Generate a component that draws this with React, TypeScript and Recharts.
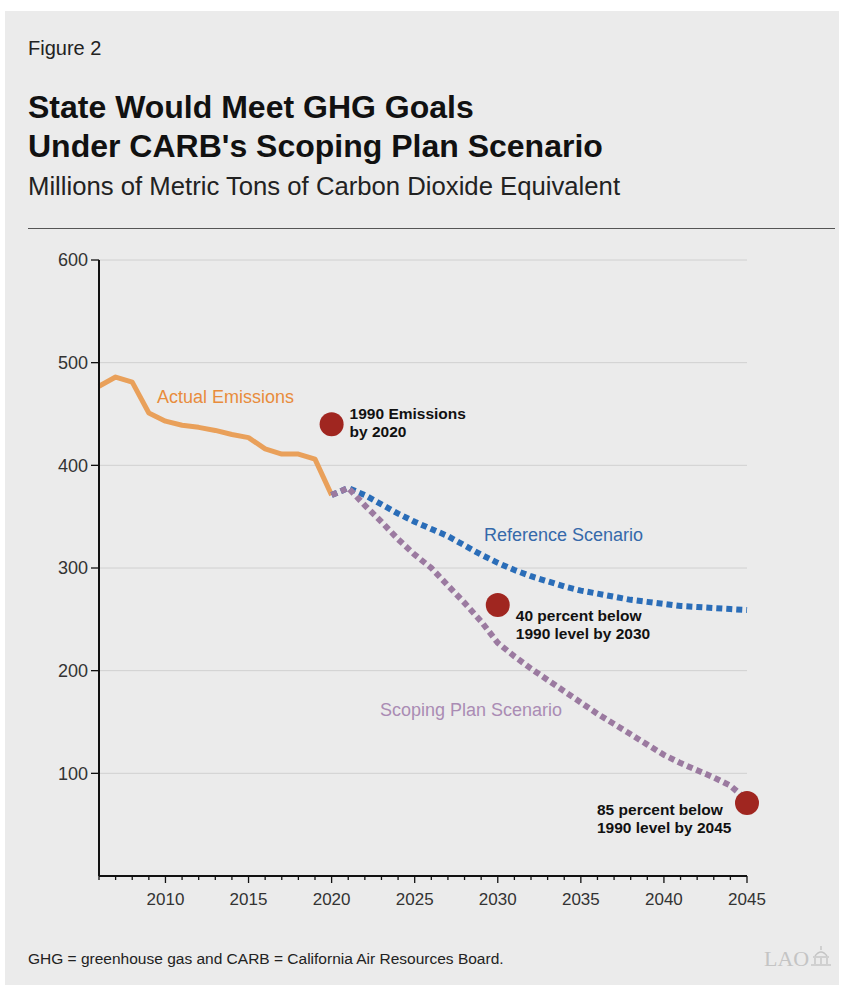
import { LineChart, Line, XAxis, YAxis, CartesianGrid } from 'recharts';

const years = [
  2006, 2007, 2008, 2009, 2010, 2011, 2012, 2013, 2014, 2015, 2016, 2017, 2018, 2019, 2020,
  2021, 2022, 2023, 2024, 2025, 2026, 2027, 2028, 2029, 2030, 2031, 2032, 2033, 2034, 2035,
  2036, 2037, 2038, 2039, 2040, 2041, 2042, 2043, 2044, 2045,
];

// 2006-2020
const actualEmissions = [477, 486, 481, 451, 443, 439, 437, 434, 430, 427, 416, 411, 411, 406, 371];

// 2020-2045
const referenceScenario = [
  371, 378, 371, 362, 353, 345, 338, 331, 322, 313, 305, 298, 292, 287, 282, 278, 275, 272, 269,
  267, 265, 263, 262, 261, 260, 259,
];
const scopingPlan = [
  371, 378, 361, 345, 328, 313, 300, 283, 266, 248, 227, 214, 202, 191, 180, 169, 158, 148, 138,
  128, 118, 110, 103, 96, 88, 74,
];

const goalYears = [2020, 2030, 2045];
const goalValues = [440, 264, 71];
const goalNotes = [
  ['1990 Emissions', 'by 2020'],
  ['40 percent below', '1990 level by 2030'],
  ['85 percent below', '1990 level by 2045'],
];

const yTicks = [100, 200, 300, 400, 500, 600];

const data = years.map((year) => {
  const ai = year - 2006;
  const si = year - 2020;
  const gi = goalYears.indexOf(year);
  return {
    year,
    actual: ai < actualEmissions.length ? actualEmissions[ai] : null,
    reference: si >= 0 ? referenceScenario[si] : null,
    scoping: si >= 0 ? scopingPlan[si] : null,
    goal: gi >= 0 ? goalValues[gi] : null,
  };
});

const FONT = '"Liberation Sans", Arial, Helvetica, sans-serif';

const YearTick = (props: any) => {
  const { x, y, payload } = props;
  const major = payload.value % 5 === 0;
  return (
    <g>
      <line x1={x} x2={x} y1={y} y2={y + (major ? 7 : 4)} stroke="#111" strokeWidth={1.3} />
      {major && (
        <text x={x} y={y + 29} textAnchor="middle" fontSize={17} fill="#333" fontFamily={FONT}>
          {payload.value}
        </text>
      )}
    </g>
  );
};

// offsets of the goal notes relative to their dot
const noteOffsets = [
  { dx: 18, dy: -5 },
  { dx: 18, dy: 16 },
  { dx: -150, dy: 12 },
];

const GoalLabel = (props: any) => {
  const { x, y, index, value } = props;
  if (value == null) return null;
  const gi = goalYears.indexOf(data[index].year);
  if (gi < 0) return null;
  const o = noteOffsets[gi];
  return (
    <text fontFamily={FONT} fontSize={15.5} fontWeight="bold" fill="#111">
      <tspan x={x + o.dx} y={y + o.dy}>{goalNotes[gi][0]}</tspan>
      <tspan x={x + o.dx} y={y + o.dy + 18}>{goalNotes[gi][1]}</tspan>
    </text>
  );
};

export default function App() {
  return (
    <div style={{ position: 'absolute', left: 0, top: 0, width: 844, height: 985, background: '#fff', fontFamily: FONT }}>
      <div style={{ position: 'absolute', left: 5, top: 11, width: 834, height: 974, background: '#EBEBEB' }} />
      <svg width={844} height={985} style={{ position: 'absolute', left: 0, top: 0 }}>
        <text x={28} y={55} fontSize={20} fill="#222" fontFamily={FONT}>Figure 2</text>
        <text x={28} y={118} fontSize={32} fontWeight="bold" fill="#111" fontFamily={FONT}>State Would Meet GHG Goals</text>
        <text x={28} y={157} fontSize={32} fontWeight="bold" fill="#111" fontFamily={FONT}>Under CARB's Scoping Plan Scenario</text>
        <text x={28} y={195} fontSize={25.7} fill="#222" fontFamily={FONT}>Millions of Metric Tons of Carbon Dioxide Equivalent</text>
        <line x1={28} x2={835} y1={228.5} y2={228.5} stroke="#555" strokeWidth={1.2} />
        <text x={157} y={403} fontSize={18} fill="#E88C3C" fontFamily={FONT}>Actual Emissions</text>
        <text x={484} y={541} fontSize={18} fill="#3569AA" fontFamily={FONT}>Reference Scenario</text>
        <text x={380} y={716} fontSize={18} fill="#AA8CB4" fontFamily={FONT}>Scoping Plan Scenario</text>
        <text x={28} y={964} fontSize={15.5} fill="#222" fontFamily={FONT}>GHG = greenhouse gas and CARB = California Air Resources Board.</text>
        <text x={764} y={966} fontSize={22} fill="#C4C4C4" fontFamily='"Liberation Serif", serif'>LAO</text>
        <g stroke="#C4C4C4" strokeWidth={1.4} fill="none">
          <line x1={821} x2={821} y1={946} y2={950} />
          <path d="M815 956 Q821 948 827 956" />
          <line x1={813} x2={829} y1={957} y2={957} />
          <line x1={815} x2={815} y1={958} y2={964} />
          <line x1={821} x2={821} y1={958} y2={964} />
          <line x1={827} x2={827} y1={958} y2={964} />
          <line x1={811} x2={831} y1={965} y2={965} />
        </g>
      </svg>
      <div style={{ position: 'absolute', left: 0, top: 240 }}>
        <LineChart width={844} height={680} data={data} margin={{ top: 20, right: 97, left: 39, bottom: 14 }}>
          <CartesianGrid horizontal vertical={false} stroke="#D0D0D0" strokeWidth={1} />
          <XAxis
            dataKey="year"
            type="number"
            domain={[2006, 2045]}
            ticks={years}
            interval={0}
            height={30}
            tickLine={false}
            tickSize={0}
            tickMargin={0}
            axisLine={{ stroke: '#111', strokeWidth: 2 }}
            tick={<YearTick />}
          />
          <YAxis
            type="number"
            domain={[0, 600]}
            ticks={yTicks}
            width={60}
            tickSize={8}
            tickMargin={3}
            axisLine={{ stroke: '#111', strokeWidth: 2 }}
            tickLine={{ stroke: '#111', strokeWidth: 1.3 }}
            tick={{ fill: '#333', fontSize: 18, fontFamily: FONT }}
          />
          <Line
            dataKey="actual"
            stroke="#E9A05A"
            strokeWidth={5}
            strokeLinejoin="round"
            dot={false}
            activeDot={false}
            isAnimationActive={false}
          />
          <Line
            dataKey="reference"
            stroke="#2A6DB8"
            strokeWidth={6}
            strokeDasharray="6 4"
            dot={false}
            activeDot={false}
            isAnimationActive={false}
          />
          <Line
            dataKey="scoping"
            stroke="#9B7AA0"
            strokeWidth={6}
            strokeDasharray="6 4"
            dot={false}
            activeDot={false}
            isAnimationActive={false}
          />
          <Line
            dataKey="goal"
            stroke="none"
            dot={{ r: 12, fill: '#A02620', stroke: 'none' }}
            activeDot={false}
            label={<GoalLabel />}
            isAnimationActive={false}
          />
        </LineChart>
      </div>
    </div>
  );
}
